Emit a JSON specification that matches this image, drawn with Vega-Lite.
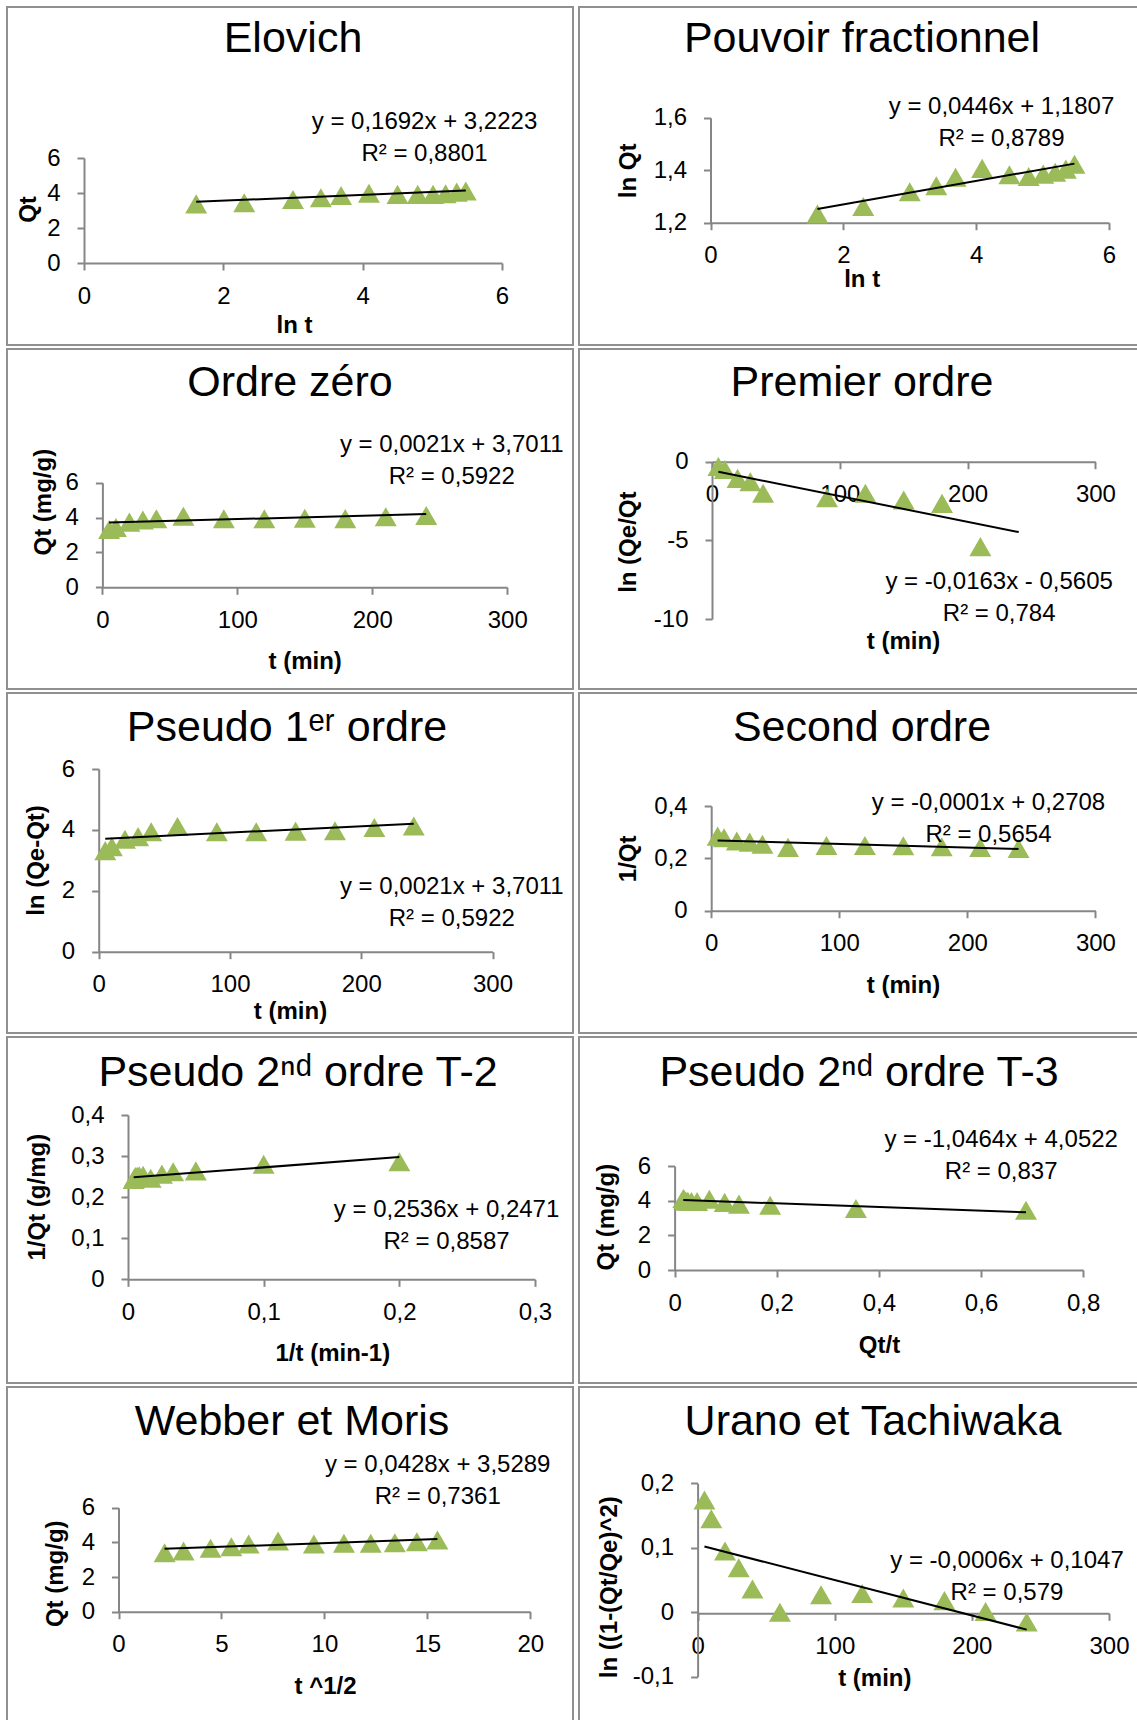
{
  "$schema": "https://vega.github.io/schema/vega-lite/v6.json",
  "background": "white",
  "padding": {"left": 6, "top": 6, "right": 0, "bottom": 0},
  "columns": 2,
  "spacing": {"row": 2, "column": 4},
  "datasets": {
    "p1": [{"x":1.61,"y":3.38},{"x":2.30,"y":3.44},{"x":3.00,"y":3.63},{"x":3.40,"y":3.73},{"x":3.69,"y":3.86},{"x":4.09,"y":3.99},{"x":4.50,"y":3.92},{"x":4.79,"y":3.92},{"x":5.01,"y":3.92},{"x":5.19,"y":3.96},{"x":5.35,"y":4.05},{"x":5.48,"y":4.11}],
    "l1": [{"x":1.61,"y":3.495,"x2":5.48,"y2":4.149}],
    "p2": [{"x":1.61,"y":1.233},{"x":2.30,"y":1.262},{"x":3.00,"y":1.318},{"x":3.40,"y":1.341},{"x":3.69,"y":1.373},{"x":4.09,"y":1.407},{"x":4.50,"y":1.383},{"x":4.79,"y":1.376},{"x":5.01,"y":1.385},{"x":5.19,"y":1.392},{"x":5.35,"y":1.404},{"x":5.48,"y":1.423}],
    "l2": [{"x":1.61,"y":1.2525,"x2":5.48,"y2":1.4251}],
    "p3": [{"x":5,"y":3.32},{"x":10,"y":3.43},{"x":20,"y":3.74},{"x":30,"y":3.86},{"x":40,"y":3.93},{"x":60,"y":4.08},{"x":90,"y":3.93},{"x":120,"y":3.93},{"x":150,"y":3.96},{"x":180,"y":3.94},{"x":210,"y":4.05},{"x":240,"y":4.12}],
    "l3": [{"x":5,"y":3.712,"x2":240,"y2":4.205}],
    "p4": [{"x":5,"y":-0.3},{"x":10,"y":-0.5},{"x":20,"y":-1.06},{"x":30,"y":-1.27},{"x":40,"y":-2.0},{"x":90,"y":-2.29},{"x":120,"y":-2.0},{"x":150,"y":-2.43},{"x":180,"y":-2.65},{"x":210,"y":-5.4}],
    "l4": [{"x":5,"y":-0.642,"x2":240,"y2":-4.473}],
    "p5": [{"x":5,"y":3.32},{"x":10,"y":3.45},{"x":20,"y":3.69},{"x":30,"y":3.78},{"x":40,"y":3.94},{"x":60,"y":4.11},{"x":90,"y":3.94},{"x":120,"y":3.94},{"x":150,"y":3.96},{"x":180,"y":3.97},{"x":210,"y":4.08},{"x":240,"y":4.13}],
    "l5": [{"x":5,"y":3.712,"x2":240,"y2":4.205}],
    "p6": [{"x":5,"y":0.285},{"x":10,"y":0.279},{"x":20,"y":0.266},{"x":30,"y":0.262},{"x":40,"y":0.254},{"x":60,"y":0.242},{"x":90,"y":0.249},{"x":120,"y":0.249},{"x":150,"y":0.248},{"x":180,"y":0.244},{"x":210,"y":0.242},{"x":240,"y":0.238}],
    "l6": [{"x":5,"y":0.268,"x2":240,"y2":0.236}],
    "p7": [{"x":0.2,"y":0.286},{"x":0.1,"y":0.280},{"x":0.05,"y":0.264},{"x":0.0333,"y":0.262},{"x":0.025,"y":0.256},{"x":0.0167,"y":0.246},{"x":0.0111,"y":0.253},{"x":0.0083,"y":0.252},{"x":0.0067,"y":0.251},{"x":0.0056,"y":0.250},{"x":0.0048,"y":0.247},{"x":0.0042,"y":0.243}],
    "l7": [{"x":0.0042,"y":0.2482,"x2":0.2,"y2":0.2978}],
    "p8": [{"x":0.688,"y":3.45},{"x":0.355,"y":3.55},{"x":0.187,"y":3.74},{"x":0.126,"y":3.80},{"x":0.098,"y":3.90},{"x":0.068,"y":4.08},{"x":0.044,"y":3.95},{"x":0.033,"y":3.95},{"x":0.026,"y":3.97},{"x":0.022,"y":3.98},{"x":0.019,"y":4.06},{"x":0.017,"y":4.12}],
    "l8": [{"x":0.017,"y":4.034,"x2":0.688,"y2":3.332}],
    "p9": [{"x":2.24,"y":3.40},{"x":3.16,"y":3.50},{"x":4.47,"y":3.66},{"x":5.48,"y":3.75},{"x":6.32,"y":3.91},{"x":7.75,"y":4.08},{"x":9.49,"y":3.91},{"x":10.95,"y":3.95},{"x":12.25,"y":3.95},{"x":13.42,"y":3.98},{"x":14.49,"y":4.04},{"x":15.49,"y":4.14}],
    "l9": [{"x":2.236,"y":3.625,"x2":15.49,"y2":4.192}],
    "p10": [{"x":5,"y":0.174},{"x":10,"y":0.145},{"x":20,"y":0.095},{"x":30,"y":0.069},{"x":40,"y":0.036},{"x":60,"y":0.0},{"x":90,"y":0.027},{"x":120,"y":0.029},{"x":150,"y":0.022},{"x":180,"y":0.018},{"x":210,"y":0.001},{"x":240,"y":-0.015}],
    "l10": [{"x":5,"y":0.102,"x2":240,"y2":-0.027}]
  },
  "concat": [
    {
      "width": 566, "height": 338,
      "title": {"text": "Elovich", "offset": -54, "dx": 3},
      "layer": [
        {"data": {"name": "p1"}, "mark": {"type": "point", "shape": "triangle-up", "filled": true, "size": 484, "color": "#9BBB59", "opacity": 1},
         "encoding": {
           "x": {"field": "x", "type": "quantitative", "scale": {"domain": [0, 6], "range": [77, 495], "nice": false, "zero": false}, "axis": {"title": "ln t", "values": [0, 2, 4, 6], "offset": -82, "titleX": 287, "titleY": 62}},
           "y": {"field": "y", "type": "quantitative", "scale": {"domain": [0, 6], "range": [256, 151], "nice": false, "zero": false}, "axis": {"title": "Qt", "values": [0, 2, 4, 6], "offset": -77, "titleX": -56, "titleY": 202}}}},
        {"data": {"name": "l1"}, "mark": {"type": "rule", "color": "black", "strokeWidth": 2},
         "encoding": {"x": {"field": "x", "type": "quantitative"}, "y": {"field": "y", "type": "quantitative"}, "x2": {"field": "x2"}, "y2": {"field": "y2"}}},
        {"data": {"values": [{"label": "trendline"}]}, "mark": {"type": "text", "text": ["y = 0,1692x + 3,2223", "R² = 0,8801"]},
         "encoding": {"x": {"datum": 4.887, "type": "quantitative"}, "y": {"datum": 8.057, "type": "quantitative"}}}
      ]
    },
    {
      "width": 566, "height": 338,
      "title": {"text": "Pouvoir fractionnel", "offset": -53.7, "dx": 0},
      "layer": [
        {"data": {"name": "p2"}, "mark": {"type": "point", "shape": "triangle-up", "filled": true, "size": 484, "color": "#9BBB59", "opacity": 1},
         "encoding": {
           "x": {"field": "x", "type": "quantitative", "scale": {"domain": [0, 6], "range": [131.5, 530], "nice": false, "zero": false}, "axis": {"title": "ln t", "values": [0, 2, 4, 6], "offset": -122.3, "titleX": 282.7, "titleY": 57}},
           "y": {"field": "y", "type": "quantitative", "scale": {"domain": [1.2, 1.6], "range": [215.7, 110.7], "nice": false, "zero": false}, "axis": {"title": "ln Qt", "values": [1.2, 1.4, 1.6], "offset": -131.5, "titleX": -82.5, "titleY": 163.4}}}},
        {"data": {"name": "l2"}, "mark": {"type": "rule", "color": "black", "strokeWidth": 2},
         "encoding": {"x": {"field": "x", "type": "quantitative"}, "y": {"field": "y", "type": "quantitative"}, "x2": {"field": "x2"}, "y2": {"field": "y2"}}},
        {"data": {"values": [{"label": "trendline"}]}, "mark": {"type": "text", "text": ["y = 0,0446x + 1,1807", "R² = 0,8789"]},
         "encoding": {"x": {"datum": 4.381, "type": "quantitative"}, "y": {"datum": 1.6408, "type": "quantitative"}}}
      ]
    },
    {
      "width": 566, "height": 340,
      "title": {"text": "Ordre zéro", "offset": -56.3, "dx": 0},
      "layer": [
        {"data": {"name": "p3"}, "mark": {"type": "point", "shape": "triangle-up", "filled": true, "size": 484, "color": "#9BBB59", "opacity": 1},
         "encoding": {
           "x": {"field": "x", "type": "quantitative", "scale": {"domain": [0, 300], "range": [95.4, 500.2], "nice": false, "zero": false}, "axis": {"title": "t (min)", "values": [0, 100, 200, 300], "offset": -101.7, "titleX": 297.7, "titleY": 74.4}},
           "y": {"field": "y", "type": "quantitative", "scale": {"domain": [0, 6], "range": [238.3, 133.7], "nice": false, "zero": false}, "axis": {"title": "Qt (mg/g)", "values": [0, 2, 4, 6], "offset": -95.4, "titleX": -58.7, "titleY": 152.7}}}},
        {"data": {"name": "l3"}, "mark": {"type": "rule", "color": "black", "strokeWidth": 2},
         "encoding": {"x": {"field": "x", "type": "quantitative"}, "y": {"field": "y", "type": "quantitative"}, "x2": {"field": "x2"}, "y2": {"field": "y2"}}},
        {"data": {"values": [{"label": "trendline"}]}, "mark": {"type": "text", "text": ["y = 0,0021x + 3,7011", "R² = 0,5922"]},
         "encoding": {"x": {"datum": 258.9, "type": "quantitative"}, "y": {"datum": 8.164, "type": "quantitative"}}}
      ]
    },
    {
      "width": 566, "height": 340,
      "title": {"text": "Premier ordre", "offset": -56.3, "dx": 0},
      "layer": [
        {"data": {"name": "p4"}, "mark": {"type": "point", "shape": "triangle-up", "filled": true, "size": 484, "color": "#9BBB59", "opacity": 1},
         "encoding": {
           "x": {"field": "x", "type": "quantitative", "scale": {"domain": [0, 300], "range": [133, 516.4], "nice": false, "zero": false}, "axis": {"title": "t (min)", "values": [0, 100, 200, 300], "offset": -227.3, "titleX": 324, "titleY": 180}},
           "y": {"field": "y", "type": "quantitative", "scale": {"domain": [-10, 0], "range": [270, 112.7], "nice": false, "zero": false}, "axis": {"title": "ln (Qe/Qt", "values": [-10, -5, 0], "offset": -133, "titleX": -83.2, "titleY": 192.7}}}},
        {"data": {"name": "l4"}, "mark": {"type": "rule", "color": "black", "strokeWidth": 2},
         "encoding": {"x": {"field": "x", "type": "quantitative"}, "y": {"field": "y", "type": "quantitative"}, "x2": {"field": "x2"}, "y2": {"field": "y2"}}},
        {"data": {"values": [{"label": "trendline"}]}, "mark": {"type": "text", "text": ["y = -0,0163x - 0,5605", "R² = 0,784"]},
         "encoding": {"x": {"datum": 224.7, "type": "quantitative"}, "y": {"datum": -7.667, "type": "quantitative"}}}
      ]
    },
    {
      "width": 566, "height": 340,
      "title": {"text": "Pseudo 1ᵉʳ ordre", "offset": -57, "dx": -3},
      "layer": [
        {"data": {"name": "p5"}, "mark": {"type": "point", "shape": "triangle-up", "filled": true, "size": 484, "color": "#9BBB59", "opacity": 1},
         "encoding": {
           "x": {"field": "x", "type": "quantitative", "scale": {"domain": [0, 300], "range": [91.7, 485.5], "nice": false, "zero": false}, "axis": {"title": "t (min)", "values": [0, 100, 200, 300], "offset": -81.3, "titleX": 283, "titleY": 60}},
           "y": {"field": "y", "type": "quantitative", "scale": {"domain": [0, 6], "range": [258.7, 76], "nice": false, "zero": false}, "axis": {"title": "ln (Qe-Qt)", "values": [0, 2, 4, 6], "offset": -91.7, "titleX": -61.7, "titleY": 167}}}},
        {"data": {"name": "l5"}, "mark": {"type": "rule", "color": "black", "strokeWidth": 2},
         "encoding": {"x": {"field": "x", "type": "quantitative"}, "y": {"field": "y", "type": "quantitative"}, "x2": {"field": "x2"}, "y2": {"field": "y2"}}},
        {"data": {"values": [{"label": "trendline"}]}, "mark": {"type": "text", "text": ["y = 0,0021x + 3,7011", "R² = 0,5922"]},
         "encoding": {"x": {"datum": 269.0, "type": "quantitative"}, "y": {"datum": 2.135, "type": "quantitative"}}}
      ]
    },
    {
      "width": 566, "height": 340,
      "title": {"text": "Second ordre", "offset": -57.3, "dx": 0},
      "layer": [
        {"data": {"name": "p6"}, "mark": {"type": "point", "shape": "triangle-up", "filled": true, "size": 484, "color": "#9BBB59", "opacity": 1},
         "encoding": {
           "x": {"field": "x", "type": "quantitative", "scale": {"domain": [0, 300], "range": [132.2, 516.4], "nice": false, "zero": false}, "axis": {"title": "t (min)", "values": [0, 100, 200, 300], "offset": -122.3, "titleX": 324, "titleY": 74.3}},
           "y": {"field": "y", "type": "quantitative", "scale": {"domain": [0, 0.4], "range": [217.7, 113], "nice": false, "zero": false}, "axis": {"title": "1/Qt", "values": [0, 0.2, 0.4], "offset": -132.2, "titleX": -83.2, "titleY": 165.3}}}},
        {"data": {"name": "l6"}, "mark": {"type": "rule", "color": "black", "strokeWidth": 2},
         "encoding": {"x": {"field": "x", "type": "quantitative"}, "y": {"field": "y", "type": "quantitative"}, "x2": {"field": "x2"}, "y2": {"field": "y2"}}},
        {"data": {"values": [{"label": "trendline"}]}, "mark": {"type": "text", "text": ["y = -0,0001x + 0,2708", "R² = 0,5654"]},
         "encoding": {"x": {"datum": 216.5, "type": "quantitative"}, "y": {"datum": 0.4126, "type": "quantitative"}}}
      ]
    },
    {
      "width": 566, "height": 346,
      "title": {"text": "Pseudo 2ⁿᵈ ordre T-2", "offset": -58.3, "dx": 8},
      "layer": [
        {"data": {"name": "p7"}, "mark": {"type": "point", "shape": "triangle-up", "filled": true, "size": 484, "color": "#9BBB59", "opacity": 1},
         "encoding": {
           "x": {"field": "x", "type": "quantitative", "scale": {"domain": [0, 0.3], "range": [121, 528], "nice": false, "zero": false}, "axis": {"title": "1/t (min-1)", "values": [0, 0.1, 0.2, 0.3], "offset": -103.7, "titleX": 325.3, "titleY": 74}},
           "y": {"field": "y", "type": "quantitative", "scale": {"domain": [0, 0.4], "range": [242.3, 78], "nice": false, "zero": false}, "axis": {"title": "1/Qt (g/mg)", "values": [0, 0.1, 0.2, 0.3, 0.4], "offset": -121, "titleX": -91, "titleY": 159.7}}}},
        {"data": {"name": "l7"}, "mark": {"type": "rule", "color": "black", "strokeWidth": 2},
         "encoding": {"x": {"field": "x", "type": "quantitative"}, "y": {"field": "y", "type": "quantitative"}, "x2": {"field": "x2"}, "y2": {"field": "y2"}}},
        {"data": {"values": [{"label": "trendline"}]}, "mark": {"type": "text", "text": ["y = 0,2536x + 0,2471", "R² = 0,8587"]},
         "encoding": {"x": {"datum": 0.2348, "type": "quantitative"}, "y": {"datum": 0.1687, "type": "quantitative"}}}
      ]
    },
    {
      "width": 566, "height": 346,
      "title": {"text": "Pseudo 2ⁿᵈ ordre T-3", "offset": -58.3, "dx": -3},
      "layer": [
        {"data": {"name": "p8"}, "mark": {"type": "point", "shape": "triangle-up", "filled": true, "size": 484, "color": "#9BBB59", "opacity": 1},
         "encoding": {
           "x": {"field": "x", "type": "quantitative", "scale": {"domain": [0, 0.8], "range": [95.6, 504.2], "nice": false, "zero": false}, "axis": {"title": "Qt/t", "values": [0, 0.2, 0.4, 0.6, 0.8], "offset": -113, "titleX": 300, "titleY": 75}},
           "y": {"field": "y", "type": "quantitative", "scale": {"domain": [0, 6], "range": [233, 129], "nice": false, "zero": false}, "axis": {"title": "Qt (mg/g)", "values": [0, 2, 4, 6], "offset": -95.6, "titleX": -68.1, "titleY": 179.7}}}},
        {"data": {"name": "l8"}, "mark": {"type": "rule", "color": "black", "strokeWidth": 2},
         "encoding": {"x": {"field": "x", "type": "quantitative"}, "y": {"field": "y", "type": "quantitative"}, "x2": {"field": "x2"}, "y2": {"field": "y2"}}},
        {"data": {"values": [{"label": "trendline"}]}, "mark": {"type": "text", "text": ["y = -1,0464x + 4,0522", "R² = 0,837"]},
         "encoding": {"x": {"datum": 0.6394, "type": "quantitative"}, "y": {"datum": 7.501, "type": "quantitative"}}}
      ]
    },
    {
      "width": 566, "height": 340,
      "title": {"text": "Webber et Moris", "offset": -56.7, "dx": 2},
      "layer": [
        {"data": {"name": "p9"}, "mark": {"type": "point", "shape": "triangle-up", "filled": true, "size": 484, "color": "#9BBB59", "opacity": 1},
         "encoding": {
           "x": {"field": "x", "type": "quantitative", "scale": {"domain": [0, 20], "range": [111.5, 523.3], "nice": false, "zero": false}, "axis": {"title": "t ^1/2", "values": [0, 5, 10, 15, 20], "offset": -115.3, "titleX": 318, "titleY": 74.3}},
           "y": {"field": "y", "type": "quantitative", "scale": {"domain": [0, 6], "range": [224.7, 120.7], "nice": false, "zero": false}, "axis": {"title": "Qt  (mg/g)", "values": [0, 2, 4, 6], "offset": -111.5, "titleX": -63.1, "titleY": 186.3}}}},
        {"data": {"name": "l9"}, "mark": {"type": "rule", "color": "black", "strokeWidth": 2},
         "encoding": {"x": {"field": "x", "type": "quantitative"}, "y": {"field": "y", "type": "quantitative"}, "x2": {"field": "x2"}, "y2": {"field": "y2"}}},
        {"data": {"values": [{"label": "trendline"}]}, "mark": {"type": "text", "text": ["y = 0,0428x + 3,5289", "R² = 0,7361"]},
         "encoding": {"x": {"datum": 15.503, "type": "quantitative"}, "y": {"datum": 8.465, "type": "quantitative"}}}
      ]
    },
    {
      "width": 566, "height": 340,
      "title": {"text": "Urano et Tachiwaka", "offset": -56.7, "dx": 11},
      "layer": [
        {"data": {"name": "p10"}, "mark": {"type": "point", "shape": "triangle-up", "filled": true, "size": 484, "color": "#9BBB59", "opacity": 1},
         "encoding": {
           "x": {"field": "x", "type": "quantitative", "scale": {"domain": [0, 300], "range": [118.6, 530], "nice": false, "zero": false}, "axis": {"title": "t (min)", "values": [0, 100, 200, 300], "offset": -113.7, "titleX": 295.3, "titleY": 65}},
           "y": {"field": "y", "type": "quantitative", "scale": {"domain": [-0.1, 0.2], "range": [289.7, 96.3], "nice": false, "zero": false}, "axis": {"title": "ln ((1-(Qt/Qe)^2)", "values": [-0.1, 0, 0.1, 0.2], "offset": -118.6, "titleX": -88.6, "titleY": 199.7}}}},
        {"data": {"name": "l10"}, "mark": {"type": "rule", "color": "black", "strokeWidth": 2},
         "encoding": {"x": {"field": "x", "type": "quantitative"}, "y": {"field": "y", "type": "quantitative"}, "x2": {"field": "x2"}, "y2": {"field": "y2"}}},
        {"data": {"values": [{"label": "trendline"}]}, "mark": {"type": "text", "text": ["y = -0,0006x + 0,1047", "R² = 0,579"]},
         "encoding": {"x": {"datum": 225.6, "type": "quantitative"}, "y": {"datum": 0.08, "type": "quantitative"}}}
      ]
    }
  ],
  "config": {
    "font": "Liberation Sans",
    "view": {"stroke": "#909090", "strokeWidth": 2},
    "axis": {
      "domainColor": "#868686", "domainWidth": 2,
      "tickColor": "#868686", "tickWidth": 2, "tickSize": 7,
      "grid": false,
      "labelFont": "Liberation Sans", "labelFontSize": 24, "labelColor": "#000000",
      "labelFlush": false, "labelOverlap": false, "labelBound": false, "labelPadding": 14,
      "labelExpr": "replace(toString(datum.value), '.', ',')",
      "titleFont": "Liberation Sans", "titleFontSize": 24, "titleFontWeight": "bold", "titleColor": "#000000",
      "titleAlign": "center", "titleBaseline": "middle"
    },
    "axisY": {"labelPadding": 17},
    "title": {"font": "Liberation Sans", "fontSize": 43, "fontWeight": "normal", "color": "#000000", "anchor": "middle", "frame": "group", "baseline": "middle"},
    "text": {"font": "Liberation Sans", "fontSize": 24, "color": "#000000", "lineHeight": 32, "align": "center", "baseline": "middle"}
  }
}
